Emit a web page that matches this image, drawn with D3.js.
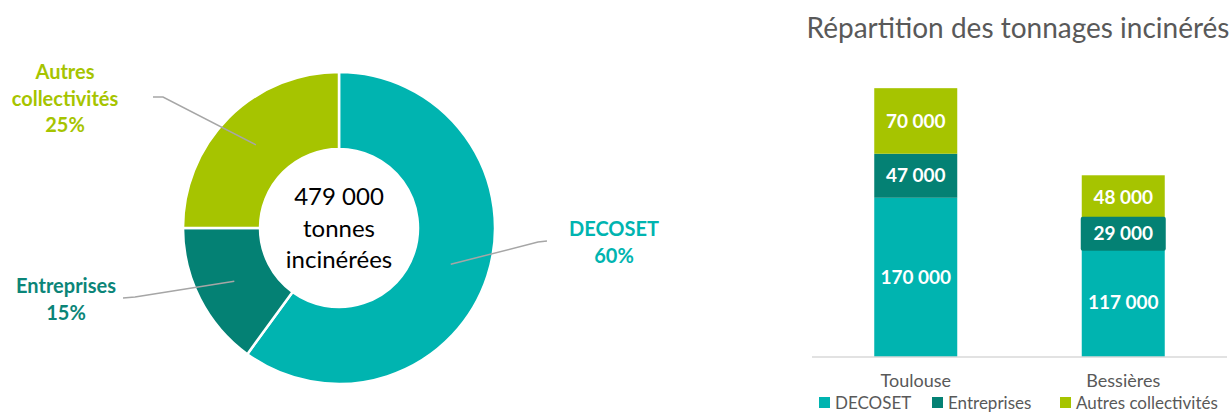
<!DOCTYPE html>
<html>
<head>
<meta charset="utf-8">
<script src="https://cdn.jsdelivr.net/npm/d3@7"></script>
<style>
  body { margin: 0; background: #fff; }
  svg text { font-family: Lato, "Open Sans", sans-serif; }
</style>
</head>
<body>
<svg id="chart" width="1231" height="412"></svg>
<script>
// donut data
const donutNames = ["DECOSET", "Entreprises", "Autres collectivités"];
const donutShares = [60, 15, 25];
const donutLabels = [["DECOSET", "60%"], ["Entreprises", "15%"], ["Autres", "collectivités", "25%"]];
const totalLines = ["479 000", "tonnes", "incinérées"];

// bar data
const categories = ["Toulouse", "Bessières"];
const seriesNames = ["DECOSET", "Entreprises", "Autres collectivités"];
const decoset = [170000, 117000];
const entreprises = [47000, 29000];
const autres = [70000, 48000];
const barTitle = "Répartition des tonnages incinérés";

const colors = ["#00B4B0", "#048174", "#A6C400"];
const labelColors = ["#00B4B0", "#0B8578", "#A6C400"];

const svg = d3.select("#chart");

const fr = d3.formatLocale({ decimal: ",", thousands: " ", grouping: [3], currency: ["", " €"] });
const fmt = fr.format(",");

// ---------- Donut ----------
const cx = 339, cy = 228;
const outerR = 156, innerR = 79;

const pie = d3.pie().sort(null).value(d => d);
const arc = d3.arc().innerRadius(innerR).outerRadius(outerR);
const midArc = d3.arc().innerRadius((innerR + outerR) / 2).outerRadius((innerR + outerR) / 2);

const donut = svg.append("g").attr("transform", `translate(${cx},${cy})`);
const arcs = pie(donutShares);

donut.selectAll("path")
  .data(arcs)
  .enter().append("path")
  .attr("d", arc)
  .attr("fill", (d, i) => colors[i])
  .attr("stroke", "#fff")
  .attr("stroke-width", 2.5);

// leader lines: centroid -> bend -> end (absolute page coords)
const leaders = [
  { bend: [538, 242], end: [547, 241], text: [614, 229] },
  { bend: [135, 297], end: [123, 298], text: [66, 286] },
  { bend: [163, 97], end: [153, 97], text: [65, 72] }
];

arcs.forEach((d, i) => {
  const c = midArc.centroid(d);
  const p0 = [c[0] + cx, c[1] + cy];
  const L = leaders[i];
  svg.append("polyline")
    .attr("points", [p0, L.bend, L.end].map(p => p.join(",")).join(" "))
    .attr("fill", "none")
    .attr("stroke", "#A6A6A6")
    .attr("stroke-width", 1.5);

  const t = svg.append("text")
    .attr("text-anchor", "middle")
    .attr("fill", labelColors[i])
    .attr("font-weight", "bold")
    .attr("font-size", 20);
  donutLabels[i].forEach((line, j) => {
    t.append("tspan")
      .attr("x", L.text[0])
      .attr("y", L.text[1] + j * 26.5)
      .attr("dy", "0.35em")
      .text(line);
  });
});

const center = svg.append("text")
  .attr("text-anchor", "middle")
  .attr("fill", "#000")
  .attr("font-size", 24);
totalLines.forEach((line, j) => {
  center.append("tspan")
    .attr("x", cx)
    .attr("y", 197 + j * 31.5)
    .attr("dy", "0.35em")
    .text(line);
});

// ---------- Stacked bars ----------
const x0 = 812, x1 = 1227, yBase = 357;

svg.append("text")
  .attr("x", 1018)
  .attr("y", 28)
  .attr("dy", "0.35em")
  .attr("text-anchor", "middle")
  .attr("fill", "#595959")
  .attr("font-size", 28)
  .text(barTitle);

const x = d3.scaleBand()
  .domain(categories)
  .range([x0, x1])
  .paddingInner(0.6)
  .paddingOuter(0.3);

const y = d3.scaleLinear()
  .domain([0, 300000])
  .range([yBase, 76]);

const table = categories.map((c, i) => ({
  cat: c,
  "DECOSET": decoset[i],
  "Entreprises": entreprises[i],
  "Autres collectivités": autres[i]
}));

const stack = d3.stack().keys(seriesNames);
const layers = stack(table);

const layerG = svg.selectAll(".layer")
  .data(layers)
  .enter().append("g")
  .attr("class", "layer");

layerG.selectAll("rect")
  .data((d, i) => d.map(v => ({ v, i })))
  .enter().append("rect")
  .attr("x", d => x(d.v.data.cat))
  .attr("y", d => y(d.v[1]))
  .attr("width", x.bandwidth())
  .attr("height", d => y(d.v[0]) - y(d.v[1]))
  .attr("fill", d => colors[d.i]);

// axis line
svg.append("line")
  .attr("x1", x0).attr("x2", x1)
  .attr("y1", yBase).attr("y2", yBase)
  .attr("stroke", "#D9D9D9")
  .attr("stroke-width", 1.5);

// value labels
layers.forEach((layer, i) => {
  layer.forEach(v => {
    const cxb = x(v.data.cat) + x.bandwidth() / 2;
    const cyb = (y(v[0]) + y(v[1])) / 2;
    const h = y(v[0]) - y(v[1]);
    if (h < 32) {
      // small segment: label gets its own filled box
      svg.append("rect")
        .attr("x", x(v.data.cat) - 1)
        .attr("y", cyb - 17)
        .attr("width", x.bandwidth() + 2)
        .attr("height", 34)
        .attr("rx", 2)
        .attr("fill", colors[i]);
    }
    svg.append("text")
      .attr("x", cxb)
      .attr("y", cyb)
      .attr("dy", "0.35em")
      .attr("text-anchor", "middle")
      .attr("fill", "#fff")
      .attr("font-weight", "bold")
      .attr("font-size", 19)
      .text(fmt(v.data[seriesNames[i]]));
  });
});

// category labels
svg.selectAll(".cat")
  .data(categories)
  .enter().append("text")
  .attr("class", "cat")
  .attr("x", d => x(d) + x.bandwidth() / 2)
  .attr("y", 381)
  .attr("dy", "0.35em")
  .attr("text-anchor", "middle")
  .attr("fill", "#595959")
  .attr("font-size", 18)
  .text(d => d);

// legend
const legendX = [819, 932, 1060];
const legend = svg.selectAll(".leg")
  .data(seriesNames)
  .enter().append("g")
  .attr("class", "leg")
  .attr("transform", (d, i) => `translate(${legendX[i]},397)`);

legend.append("rect")
  .attr("width", 11).attr("height", 11)
  .attr("fill", (d, i) => colors[i]);

legend.append("text")
  .attr("x", 16)
  .attr("y", 6)
  .attr("dy", "0.35em")
  .attr("fill", "#595959")
  .attr("font-size", 17)
  .text(d => d);
</script>
</body>
</html>
